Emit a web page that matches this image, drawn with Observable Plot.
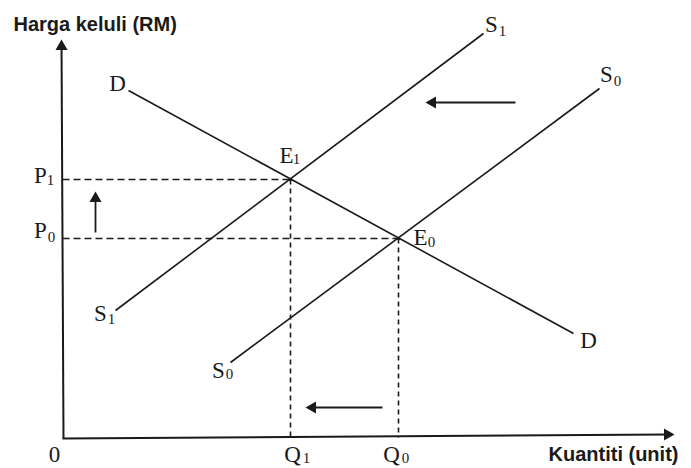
<!DOCTYPE html>
<html>
<head>
<meta charset="utf-8">
<script src="https://cdn.jsdelivr.net/npm/d3@7"></script>
<script src="https://cdn.jsdelivr.net/npm/@observablehq/plot@0.6"></script>
<style>
  html, body { margin: 0; padding: 0; background: #fff; }
  #chart svg { display: block; }
</style>
</head>
<body>
<div id="chart"></div>
<script>
// Units: quantity (x) and price (y), origin at the axes' corner.
const curveNames = ["D", "S1", "S0"];
const curveX1 = [66, 53, 168];
const curveY1 = [347, 127, 75];
const curveX2 = [511, 421, 537];
const curveY2 = [104, 404, 349];

const eqNames = ["E1", "E0"];
const eqQ = [228, 336];
const eqP = [258, 199];

const axisTails = [[0, -1], [1, -1]];
const axisTips = [[611, 3], [-1, 397]];

const shiftTails = [[453, 335], [33, 205], [320, 30]];
const shiftTips = [[364, 335], [33, 245], [244, 30]];

const letterText = ["D", "D", "S", "S", "S", "S", "E", "E", "P", "P", "Q", "Q", "0"];
const letterX = [55, 526, 429, 544, 38, 156, 224, 358, -22, -22, 230, 329, -8];
const letterY = [354, 97, 413, 363, 124, 67, 282, 200, 262, 207, -17, -17, -17];
const subText = ["1", "0", "1", "0", "1", "0", "1", "0", "1", "0"];
const subX = [440, 555, 49, 167, 234, 369, -12, -11, 244, 343];
const subY = [406, 356, 118, 63, 278, 195, 257, 200, -21, -21];

const titleText = ["Harga keluli (RM)", "Kuantiti (unit)"];
const titleX = [-49, 486];
const titleY = [413, -17];

const ink = "#1a1a1a";

const curves = curveNames.map((n, i) => ({n, x1: curveX1[i], y1: curveY1[i], x2: curveX2[i], y2: curveY2[i]}));
const eqs = eqNames.map((n, i) => ({n, q: eqQ[i], p: eqP[i]}));
const hDash = eqs.map(e => ({x1: 0, y1: e.p, x2: e.q, y2: e.p}));
const vDash = eqs.map(e => ({x1: e.q, y1: e.p, x2: e.q, y2: 0}));
function mk(tails, tips, back) {
  return tails.map((t, i) => {
    const [x2, y2] = tips[i];
    const ux = x2 - t[0], uy = y2 - t[1];
    const len = Math.hypot(ux, uy);
    return {x1: t[0], y1: t[1], x2, y2,
      hx: x2 - back * ux / len, hy: y2 - back * uy / len,
      rot: Math.atan2(ux, uy) * 180 / Math.PI};
  });
}
const axes = mk(axisTails, axisTips, 6);
const shifts = mk(shiftTails, shiftTips, 6);
const letters = letterText.map((t, i) => ({t, x: letterX[i], y: letterY[i]}));
const subs = subText.map((t, i) => ({t, x: subX[i], y: subY[i]}));
const titles = titleText.map((t, i) => ({t, x: titleX[i], y: titleY[i]}));

const chart = Plot.plot({
  width: 691,
  height: 468,
  margin: 0,
  x: {domain: [-62, 629], axis: null},
  y: {domain: [-31, 437], axis: null},
  style: {background: "#fff"},
  marks: [
    Plot.link(hDash, {x1: "x1", y1: "y1", x2: "x2", y2: "y2", stroke: ink, strokeWidth: 1.6, strokeDasharray: "7,4"}),
    Plot.link(vDash, {x1: "x1", y1: "y1", x2: "x2", y2: "y2", stroke: ink, strokeWidth: 1.6, strokeDasharray: "5,4"}),
    Plot.link(curves, {x1: "x1", y1: "y1", x2: "x2", y2: "y2", stroke: ink, strokeWidth: 1.6}),
    Plot.link(axes, {x1: "x1", y1: "y1", x2: "hx", y2: "hy", stroke: ink, strokeWidth: 2}),
    Plot.dot(axes, {x: "hx", y: "hy", symbol: "triangle", r: 4.5, fill: ink, stroke: "none", rotate: "rot"}),
    Plot.link(shifts, {x1: "x1", y1: "y1", x2: "hx", y2: "hy", stroke: ink, strokeWidth: 1.8}),
    Plot.dot(shifts, {x: "hx", y: "hy", symbol: "triangle", r: 4.5, fill: ink, stroke: "none", rotate: "rot"}),
    Plot.dot(eqs, {x: "q", y: "p", r: 1.8, fill: ink, stroke: "none"}),
    Plot.text(letters, {x: "x", y: "y", text: "t", fontFamily: "Liberation Serif", fontSize: 23, fill: ink}),
    Plot.text(subs, {x: "x", y: "y", text: "t", fontFamily: "Liberation Serif", fontSize: 15, fill: ink}),
    Plot.text(titles, {x: "x", y: "y", text: "t", textAnchor: "start", fontFamily: "Liberation Sans", fontWeight: "bold", fontSize: 20, fill: ink})
  ]
});
document.getElementById("chart").appendChild(chart);
</script>
</body>
</html>
